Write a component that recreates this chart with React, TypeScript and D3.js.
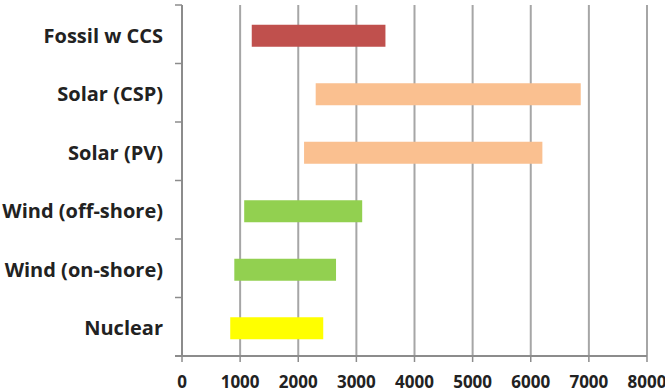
import React from "react";
import * as d3 from "d3";

const categories = ["Fossil w CCS", "Solar (CSP)", "Solar (PV)", "Wind (off-shore)", "Wind (on-shore)", "Nuclear"];
const lowValues = [1200, 2300, 2100, 1070, 900, 830];
const highValues = [3500, 6860, 6200, 3100, 2650, 2430];
const barColors = ["#C0504D", "#FAC090", "#FAC090", "#92D050", "#92D050", "#FFFF00"];
const xTicks = [0, 1000, 2000, 3000, 4000, 5000, 6000, 7000, 8000];

const W = 665;
const H = 392;
const left = 182;
const right = 647;
const top = 5;
const bottom = 356;

export default function App() {
  const x = d3.scaleLinear().domain([0, 8000]).range([left, right]);
  const y = d3.scaleBand().domain(categories).range([top, bottom]).paddingInner(0).paddingOuter(0);
  const bandW = y.bandwidth();
  const barH = 22;
  const font = "'Open Sans', 'DejaVu Sans', sans-serif";
  const gridColor = "#A6A6A6";
  const axisColor = "#8C8C8C";

  const catTicks = d3.range(categories.length + 1).map((i) => top + i * bandW);

  return (
    <svg width={W} height={H} style={{ position: "fixed", left: 0, top: 0, background: "#fff" }}>
      {/* vertical gridlines */}
      {xTicks.slice(1).map((t) => (
        <line key={"g" + t} x1={x(t)} x2={x(t)} y1={top} y2={bottom} stroke={gridColor} strokeWidth={2} />
      ))}
      {/* floating range bars */}
      {categories.map((c, i) => (
        <rect
          key={c}
          x={x(lowValues[i])}
          y={(y(c) as number) + bandW / 2 - barH / 2 + 1.5}
          width={x(highValues[i]) - x(lowValues[i])}
          height={barH}
          fill={barColors[i]}
        />
      ))}
      {/* y axis */}
      <line x1={left} x2={left} y1={top} y2={bottom} stroke={axisColor} strokeWidth={2} />
      {catTicks.map((ty, i) => (
        <line key={"yt" + i} x1={left - 7} x2={left} y1={ty} y2={ty} stroke={axisColor} strokeWidth={1.5} />
      ))}
      {/* x axis */}
      <line x1={left - 7} x2={right} y1={bottom} y2={bottom} stroke={axisColor} strokeWidth={2} />
      {xTicks.map((t) => (
        <line key={"xt" + t} x1={x(t)} x2={x(t)} y1={bottom} y2={bottom + 6} stroke={axisColor} strokeWidth={1.5} />
      ))}
      {xTicks.map((t) => (
        <text
          key={"xl" + t}
          x={x(t)}
          y={388}
          textAnchor="middle"
          fontFamily={font}
          fontWeight={700}
          fontSize={17}
          fill="#222"
        >
          {t}
        </text>
      ))}
      {categories.map((c) => (
        <text
          key={"yl" + c}
          x={163}
          y={(y(c) as number) + bandW / 2 + 1.5}
          dy="0.35em"
          textAnchor="end"
          fontFamily={font}
          fontWeight={700}
          fontSize={20}
          fill="#222"
        >
          {c}
        </text>
      ))}
    </svg>
  );
}
